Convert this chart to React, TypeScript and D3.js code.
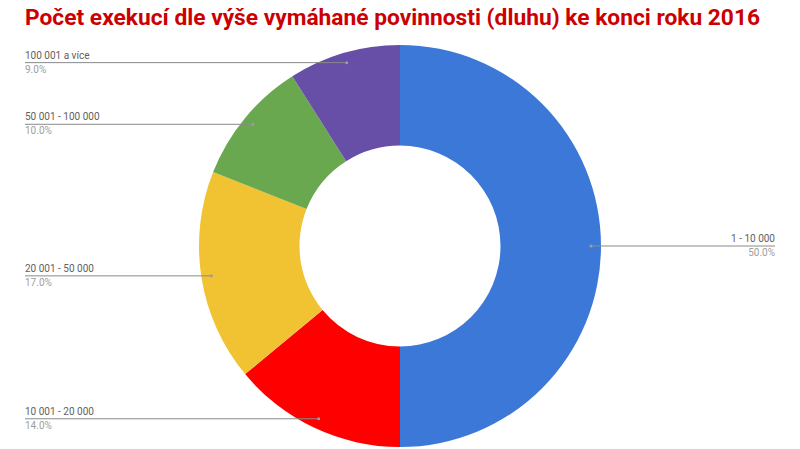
import React, { useRef, useEffect } from 'react';
import * as d3 from 'd3';

const categories = ['1 - 10 000', '10 001 - 20 000', '20 001 - 50 000', '50 001 - 100 000', '100 001 a více'];
const shares = [50, 14, 17, 10, 9];
const sliceColors = ['#3c78d8', '#ff0000', '#f1c232', '#6aa84f', '#674ea7'];

const width = 800;
const height = 449;

const App: React.FC = () => {
  const svgRef = useRef<SVGSVGElement>(null);

  useEffect(() => {
    if (!svgRef.current) return;
    const svg = d3.select(svgRef.current);
    svg.selectAll('*').remove();

    const cx = 400;
    const cy = 246;
    const outer = 201;
    const inner = 100.5;

    // title
    svg.append('text')
      .attr('x', 25)
      .attr('y', 25)
      .attr('font-family', '"Liberation Sans Narrow", "Arial Narrow", Roboto, sans-serif')
      .attr('font-size', '22px')
      .attr('font-weight', 700)
      .attr('fill', '#cc0000')
      .attr('textLength', 735)
      .attr('lengthAdjust', 'spacingAndGlyphs')
      .text('Počet exekucí dle výše vymáhané povinnosti (dluhu) ke konci roku 2016');

    const data = categories.map((c, i) => ({ label: c, value: shares[i], color: sliceColors[i] }));
    const pie = d3.pie<{ label: string; value: number; color: string }>()
      .value(d => d.value)
      .sort(null);
    const arcs = pie(data);
    const arc = d3.arc<d3.PieArcDatum<{ label: string; value: number; color: string }>>()
      .innerRadius(inner)
      .outerRadius(outer);

    const g = svg.append('g').attr('transform', `translate(${cx},${cy})`);
    g.selectAll('path')
      .data(arcs)
      .enter()
      .append('path')
      .attr('d', arc)
      .attr('fill', d => d.data.color);

    const total = d3.sum(shares);
    const labels = svg.append('g').attr('font-family', 'Roboto, sans-serif').attr('font-size', '10px');

    arcs.forEach(a => {
      const mid = (a.startAngle + a.endAngle) / 2;
      const px = cx + Math.sin(mid) * outer * 0.95;
      const py = cy - Math.cos(mid) * outer * 0.95;
      const right = Math.sin(mid) > 0;
      const x2 = right ? 775 : 25;

      labels.append('line')
        .attr('x1', px)
        .attr('y1', py)
        .attr('x2', x2)
        .attr('y2', py)
        .attr('stroke', '#8a8a8a')
        .attr('stroke-width', 1);
      labels.append('circle')
        .attr('cx', px)
        .attr('cy', py)
        .attr('r', 1.5)
        .attr('fill', '#9e9e9e');

      labels.append('text')
        .attr('x', x2)
        .attr('y', py - 4)
        .attr('text-anchor', right ? 'end' : 'start')
        .attr('fill', '#616161')
        .text(a.data.label);
      labels.append('text')
        .attr('x', x2)
        .attr('y', py + 10)
        .attr('text-anchor', right ? 'end' : 'start')
        .attr('fill', '#9e9e9e')
        .text(((a.data.value / total) * 100).toFixed(1) + '%');
    });
  }, []);

  return (
    <svg
      ref={svgRef}
      width={width}
      height={height}
      style={{ position: 'absolute', left: 0, top: 0, background: '#fff' }}
    />
  );
};

export default App;
